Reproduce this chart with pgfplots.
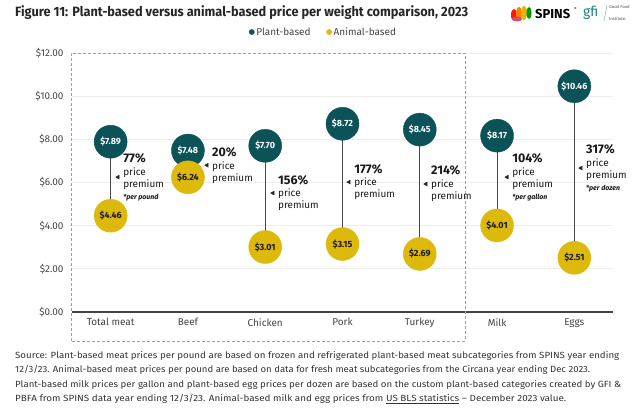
\documentclass[border=0pt]{standalone}
\usepackage{fontspec}
\setmainfont{Fira Sans}
\usepackage{graphicx}
\usepackage{pgfplots}
\pgfplotsset{compat=1.18}
\definecolor{plantc}{HTML}{0B5259}
\definecolor{animalc}{HTML}{DDB90C}
\definecolor{boxc}{HTML}{A8A46C}
\definecolor{txtc}{HTML}{444444}
\definecolor{gfic}{HTML}{1F7F7A}
\begin{document}
\begin{tikzpicture}[x=1bp,y=1bp]
\path[use as bounding box] (0,0) rectangle (640,407);
% title
\node[anchor=base west, inner sep=0, text=black!85] at (15,390)
  {\resizebox{453bp}{\height}{\fontsize{13.5}{15}\selectfont\bfseries Figure 11: Plant-based versus animal-based price per weight comparison, 2023}};
% logos
\fill[red!80!orange] (514,392) ellipse (3bp and 6bp);
\fill[orange] (519,393) ellipse (3bp and 7bp);
\fill[animalc] (524,394) ellipse (3bp and 7bp);
\fill[green!60!black] (529,394) ellipse (2.5bp and 6bp);
\fill[purple!70] (517,388) ellipse (5bp and 2.5bp);
\node[anchor=west, inner sep=0] at (535,393) {\fontsize{13}{15}\selectfont\bfseries SPINS};
\node[anchor=west, inner sep=0] at (574,398) {\fontsize{4}{4}\selectfont\textregistered};
\node[anchor=west, inner sep=0, text=gfic] at (583,394) {\fontsize{14}{15}\selectfont gfi};
\draw[gfic!70, line width=0.4bp] (604,386) -- (607,402);
\node[anchor=west, inner sep=0, align=left, text=black!70] at (609,394) {\fontsize{4.2}{5}\selectfont Good Food\\\fontsize{4.2}{5}\selectfont Institute.};
\begin{axis}[
  at={(72bp,95bp)}, anchor=south west, scale only axis,
  width=541bp, height=259bp,
  xmin=-0.5, xmax=6.5, ymin=0, ymax=12,
  clip=false,
  axis y line*=left, y axis line style={draw=none},
  axis x line*=bottom, x axis line style={-, draw=txtc, line width=1.3bp},
  major tick length=0pt,
  ytick={0,2,4,6,8,10,12},
  yticklabels={\$0.00,\$2.00,\$4.00,\$6.00,\$8.00,\$10.00,\$12.00},
  xtick={0,1,2,3,4,5,6},
  xticklabels={Total meat,Beef,Chicken,Pork,Turkey,Milk,Eggs},
  tick label style={font=\fontsize{10}{12}\selectfont, text=txtc},
  xticklabel style={yshift=-3bp},
  yticklabel style={xshift=-5bp},
  ymajorgrids, grid style={color=black!7, line width=0.8bp},
  legend columns=2,
  legend style={at={(rel axis cs:0.465,1.081)}, anchor=center, draw=none, fill=none,
    font=\fontsize{10}{12}\selectfont, text=txtc, /tikz/every even column/.append style={column sep=14bp}},
  legend cell align=left,
  /pgf/number format/assume math mode=true,
]
\addlegendimage{only marks, mark=*, mark size=2.6bp, color=plantc}
\addlegendentry{Plant-based}
\addlegendimage{only marks, mark=*, mark size=2.6bp, color=animalc}
\addlegendentry{Animal-based}
% connecting lines
\addplot[forget plot, color=black!72, line width=1.1bp] coordinates {(0,4.46) (0,7.89)};
\addplot[forget plot, color=black!72, line width=1.1bp] coordinates {(1,6.24) (1,7.48)};
\addplot[forget plot, color=black!72, line width=1.1bp] coordinates {(2,3.01) (2,7.70)};
\addplot[forget plot, color=black!72, line width=1.1bp] coordinates {(3,3.15) (3,8.72)};
\addplot[forget plot, color=black!72, line width=1.1bp] coordinates {(4,2.69) (4,8.45)};
\addplot[forget plot, color=black!72, line width=1.1bp] coordinates {(5,4.01) (5,8.17)};
\addplot[forget plot, color=black!72, line width=1.1bp] coordinates {(6,2.51) (6,10.46)};
% plant-based
\addplot[forget plot, only marks, mark=*, mark size=16.5bp, color=plantc,
  nodes near coords={\$\pgfmathprintnumber[fixed,fixed zerofill,precision=2]{\pgfplotspointmeta}},
  nodes near coords align=center,
  every node near coord/.append style={text=white, font=\fontsize{9}{10}\selectfont\bfseries, anchor=center}]
  coordinates {(0,7.89) (1,7.48) (2,7.70) (3,8.72) (4,8.45) (5,8.17) (6,10.46)};
% animal-based
\addplot[forget plot, only marks, mark=*, mark size=16.5bp, color=animalc,
  nodes near coords={\$\pgfmathprintnumber[fixed,fixed zerofill,precision=2]{\pgfplotspointmeta}},
  nodes near coords align=center,
  every node near coord/.append style={text=black!90, font=\fontsize{9}{10}\selectfont\bfseries, anchor=center}]
  coordinates {(0,4.46) (1,6.24) (2,3.01) (3,3.15) (4,2.69) (5,4.01) (6,2.51)};
% premium pointers
\addplot[forget plot, only marks, mark=triangle*, mark size=2.3bp, color=black!85, mark options={rotate=90}]
  coordinates {(0.096,6.25) (1.247,6.80) (2.10,5.51) (3.085,6.02) (4.08,5.93) (5.13,6.25) (6.085,6.67)};
% annotations
\tikzset{prem/.style={anchor=west, inner sep=0, align=left, text=black!90, xshift=5bp}}
\newcommand{\pct}[1]{{\fontsize{12.5}{14}\selectfont\bfseries #1}}
\newcommand{\pp}{\fontsize{10}{11.5}\selectfont}
\newcommand{\fn}[1]{{\fontsize{7}{9}\selectfont\bfseries\itshape #1}}
\node[prem] at (axis cs:0.096,6.25) {\pct{77\%}\\[1bp]\pp price\\\pp premium\\\fn{*per pound}};
\node[prem] at (axis cs:1.247,6.80) {\pct{20\%}\\[1bp]\pp price\\\pp premium};
\node[prem] at (axis cs:2.10,5.51) {\pct{156\%}\\[1bp]\pp price\\\pp premium};
\node[prem] at (axis cs:3.085,6.02) {\pct{177\%}\\[1bp]\pp price\\\pp premium};
\node[prem] at (axis cs:4.08,5.93) {\pct{214\%}\\[1bp]\pp price\\\pp premium};
\node[prem] at (axis cs:5.13,6.25) {\pct{104\%}\\[1bp]\pp price\\\pp premium\\\fn{*per gallon}};
\node[prem] at (axis cs:6.085,6.67) {\pct{317\%}\\[1bp]\pp price\\\pp premium\\\fn{*per dozen}};
\end{axis}
% dashed box
\draw[boxc, line width=1bp, dash pattern=on 3bp off 2bp] (71,66) rectangle (465,354);
% source
\begin{scope}[every node/.style={anchor=base west, inner sep=0, text=black!80}]
\node at (15,49) {\resizebox{604bp}{\height}{\fontsize{9}{11}\selectfont Source: Plant-based meat prices per pound are based on frozen and refrigerated plant-based meat subcategories from SPINS year ending}};
\node at (15,34.5) {\resizebox{575bp}{\height}{\fontsize{9}{11}\selectfont 12/3/23. Animal-based meat prices per pound are based on data for fresh meat subcategories from the Circana year ending Dec 2023.}};
\node at (15,20) {\resizebox{606bp}{\height}{\fontsize{9}{11}\selectfont Plant-based milk prices per gallon and plant-based egg prices per dozen are based on the custom plant-based categories created by GFI \&}};
\node at (15,5.5) {\resizebox{551bp}{\height}{\fontsize{9}{11}\selectfont PBFA from SPINS data year ending 12/3/23. Animal-based milk and egg prices from \underline{US BLS statistics} -- December 2023 value.}};
\end{scope}
\end{tikzpicture}
\end{document}
